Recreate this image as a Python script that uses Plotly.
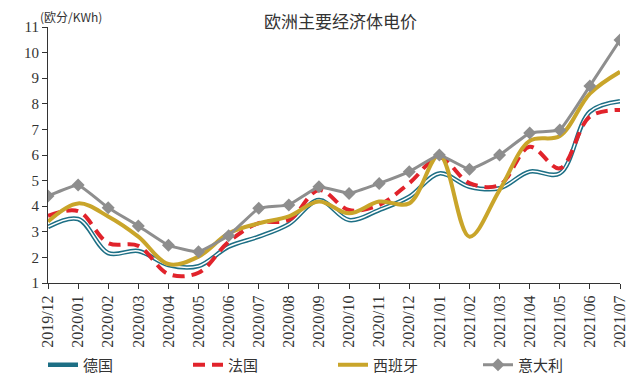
import plotly.graph_objects as go

months = ["2019/12", "2020/01", "2020/02", "2020/03", "2020/04", "2020/05", "2020/06",
          "2020/07", "2020/08", "2020/09", "2020/10", "2020/11", "2020/12", "2021/01",
          "2021/02", "2021/03", "2021/04", "2021/05", "2021/06", "2021/07"]

germany = [3.19, 3.50, 2.17, 2.25, 1.70, 1.66, 2.42, 2.81, 3.30, 4.24, 3.46, 3.85, 4.37, 5.28,
           4.76, 4.70, 5.35, 5.28, 7.69, 8.10]
france = [3.62, 3.81, 2.56, 2.45, 1.35, 1.40, 2.61, 3.34, 3.46, 4.63, 3.85, 4.05, 4.90, 5.90,
          4.90, 4.83, 6.32, 5.48, 7.50, 7.76]
spain = [3.40, 4.11, 3.60, 2.81, 1.74, 2.03, 2.94, 3.33, 3.60, 4.18, 3.72, 4.18, 4.11, 6.00,
         2.81, 4.63, 6.55, 6.74, 8.40, 9.25]
italy = [4.40, 4.83, 3.94, 3.23, 2.47, 2.22, 2.85, 3.92, 4.05, 4.76, 4.50, 4.89, 5.35, 6.00,
         5.44, 6.00, 6.86, 6.98, 8.70, 10.49]

names = ["德国", "法国", "西班牙", "意大利"]
title_text = "欧洲主要经济体电价"
unit_text = "(欧分/KWh)"

serif = "Liberation Serif, Noto Sans CJK SC, serif"
cjk = "Noto Sans CJK SC, sans-serif"

# The page body has an 8px default margin, so the figure is sized 632x374
W, H = 632, 374
L, R, T, B = 40, 20, 19, 99
PW, PH = W - L - R, H - T - B

fig = go.Figure()
fig.add_trace(go.Scatter(x=months, y=germany, name=names[0], mode="lines",
                         line=dict(color="#1d6f85", width=4.5, shape="spline", smoothing=1)))
fig.add_trace(go.Scatter(x=months, y=germany, name=names[0], mode="lines", showlegend=False,
                         hoverinfo="skip",
                         line=dict(color="#ffffff", width=1.5, shape="spline", smoothing=1)))
fig.add_trace(go.Scatter(x=months, y=france, name=names[1], mode="lines",
                         line=dict(color="#e1232b", width=4, dash="12px,7px", shape="spline",
                                   smoothing=1)))
fig.add_trace(go.Scatter(x=months, y=spain, name=names[2], mode="lines",
                         line=dict(color="#c9a52a", width=4, shape="spline", smoothing=1)))
fig.add_trace(go.Scatter(x=months, y=italy, name=names[3], mode="lines+markers",
                         line=dict(color="#8e8e8e", width=3, shape="spline", smoothing=0.3),
                         marker=dict(symbol="diamond", size=10, color="#8e8e8e")))

fig.update_layout(
    width=W, height=H,
    margin=dict(l=L, r=R, t=T, b=B, autoexpand=False),
    paper_bgcolor="white", plot_bgcolor="white",
    showlegend=True,
    legend=dict(orientation="h", x=(35 - L) / PW, xanchor="left",
                y=-(357 - (H - B)) / PH, yanchor="middle",
                font=dict(family=cjk, size=15, color="#333333"),
                entrywidth=100, entrywidthmode="pixels", bgcolor="rgba(0,0,0,0)"),
    annotations=[
        dict(text=title_text, xref="paper", yref="paper", showarrow=False,
             x=(332 - L) / PW, y=1 + (T - 12) / PH, yanchor="middle",
             font=dict(family=cjk, size=17, color="#333333")),
        dict(text=unit_text, xref="paper", yref="paper", showarrow=False,
             x=(30 - L) / PW, xanchor="left", y=1 + (T - 8) / PH, yanchor="middle",
             font=dict(family=cjk, size=12, color="#333333")),
    ],
)

fig.update_xaxes(type="category", range=[0, len(months) - 1], tickangle=-90, automargin=False,
                 showline=True, linecolor="#333333", linewidth=1,
                 ticks="outside", ticklen=5, tickcolor="#333333", showgrid=False, zeroline=False,
                 tickfont=dict(family=serif, size=16, color="#333333"))
fig.update_yaxes(range=[1, 11], dtick=1, automargin=False, showline=True, linecolor="#333333",
                 linewidth=1, ticks="outside", ticklen=5, tickcolor="#333333", showgrid=False,
                 zeroline=False, tickfont=dict(family=serif, size=15, color="#333333"))

fig.write_html("out.html")
